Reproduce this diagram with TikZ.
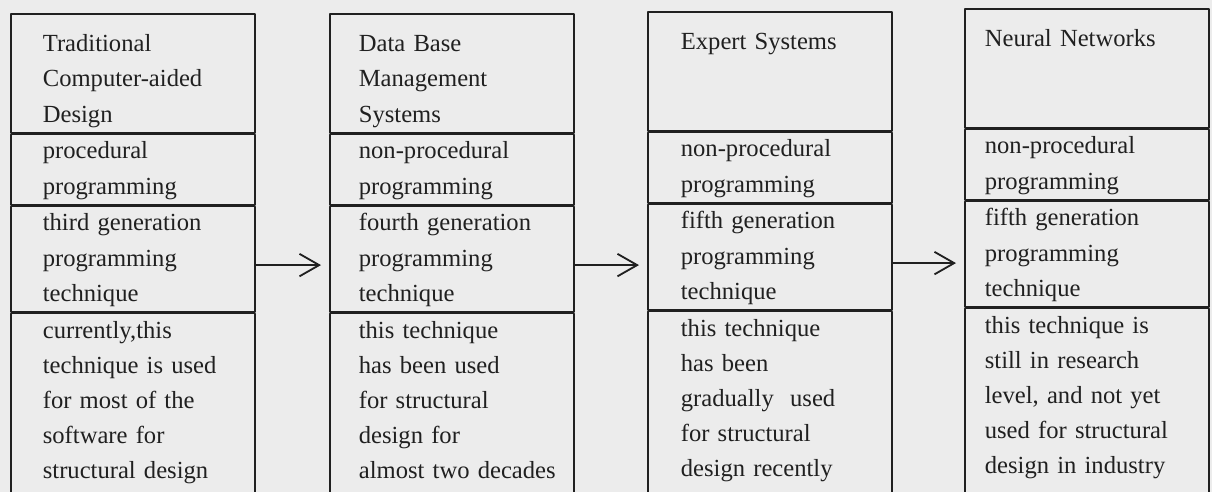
\documentclass[tikz,border=0pt]{standalone}
\usepackage{fontspec}
\setmainfont{Liberation Serif}
\usetikzlibrary{positioning,arrows.meta}

\definecolor{paper}{RGB}{236,236,236}
\definecolor{ink}{RGB}{32,32,32}

\begin{document}
\begin{tikzpicture}[
    x=0.025cm,
    y=-0.025cm,
    line join=round,
    frame/.style={
        draw=ink,
        line width=1.2pt,
        text=ink,
        inner sep=0pt,
        text width=6.1cm,
        align=left,
        font=\fontsize{17.5}{25}\selectfont
    },
    head/.style={
        frame,
        anchor=north west,
        execute at begin node={\leftskip=#1\relax\rule{0pt}{27pt}},
        execute at end node={\strut}
    },
    cell/.style={
        frame,
        execute at begin node={\leftskip=#1\relax\strut},
        execute at end node={\strut}
    },
    tail/.style={
        frame,
        execute at begin node={\leftskip=#1\relax\strut},
        execute at end node={\rule[-22pt]{0pt}{22pt}}
    },
    flow/.style={
        draw=ink,
        line width=1.3pt,
        -{Straight Barb[length=14pt,width=16pt]},
        shorten >=0.2cm
    }
]

% -------------------------------------------------
% Поле листа
% -------------------------------------------------

\path[use as bounding box, fill=paper] (0,0) rectangle (1212,492);
\clip (0,0) rectangle (1212,492);

% -------------------------------------------------
% Первый столбец
% -------------------------------------------------

\node[head=0.8cm] (T1) at (10,13)
    {Traditional\\Computer-aided\\Design};
\node[cell=0.8cm, below=0pt of T1] (P1)
    {procedural\\programming};
\node[cell=0.8cm, below=0pt of P1] (G1)
    {third generation\\programming\\technique};
\node[tail=0.8cm, below=0pt of G1] (U1)
    {currently,this\\technique is used\\for most of the\\software for\\structural design};

% -------------------------------------------------
% Второй столбец
% -------------------------------------------------

\node[head=0.725cm] (T2) at (329,13)
    {Data Base\\Management\\Systems};
\node[cell=0.725cm, below=0pt of T2] (P2)
    {non-procedural\\programming};
\node[cell=0.725cm, below=0pt of P2] (G2)
    {fourth generation\\programming\\technique};
\node[tail=0.725cm, below=0pt of G2] (U2)
    {this technique\\has been used\\for structural\\design for\\almost two decades};

% -------------------------------------------------
% Третий столбец
% -------------------------------------------------

\node[head=0.825cm] (T3) at (647,11)
    {Expert Systems\\~\\~};
\node[cell=0.825cm, below=0pt of T3] (P3)
    {non-procedural\\programming};
\node[cell=0.825cm, below=0pt of P3] (G3)
    {fifth generation\\programming\\technique};
\node[tail=0.825cm, below=0pt of G3] (U3)
    {this technique\\has been\\gradually~~used\\for structural\\design recently};

% -------------------------------------------------
% Четвёртый столбец
% -------------------------------------------------

\node[head=0.5cm] (T4) at (964,8)
    {Neural Networks\\~\\~};
\node[cell=0.5cm, below=0pt of T4] (P4)
    {non-procedural\\programming};
\node[cell=0.5cm, below=0pt of P4] (G4)
    {fifth generation\\programming\\technique};
\node[tail=0.5cm, below=0pt of G4] (U4)
    {this technique is\\still in research\\level, and not yet\\used for structural\\design in industry};

% -------------------------------------------------
% Стрелки между столбцами
% -------------------------------------------------

\coordinate (a1) at ([yshift=-0.15cm]G1.east);
\coordinate (a2) at ([yshift=-0.15cm]G2.east);
\coordinate (a3) at ([yshift=-0.15cm]G3.east);

\draw[flow] (a1) -- (a1 -| G2.west);
\draw[flow] (a2) -- (a2 -| G3.west);
\draw[flow] (a3) -- (a3 -| G4.west);

\end{tikzpicture}
\end{document}
